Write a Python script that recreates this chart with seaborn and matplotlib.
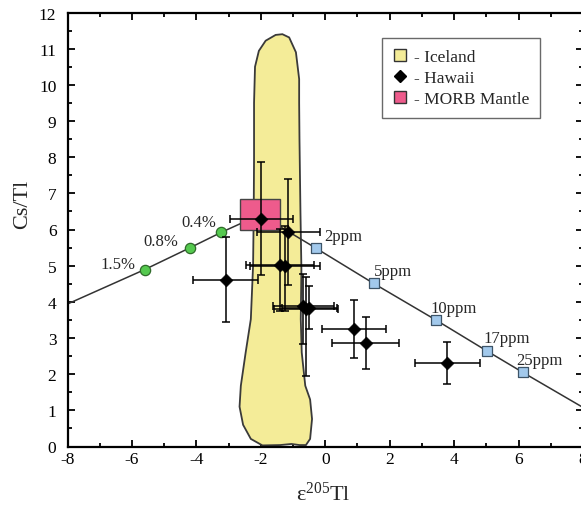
import matplotlib
matplotlib.use("Agg")
import matplotlib.pyplot as plt
from matplotlib.patches import Rectangle
from matplotlib.lines import Line2D
from matplotlib.ticker import MultipleLocator
import seaborn as sns
import pandas as pd

# ---------------- data ----------------
# Iceland field outline (epsilon205Tl, Cs/Tl)
ice_x = [-1.33, -1.54, -1.85, -2.06, -2.18, -2.21, -2.21, -2.22, -2.24, -2.31, -2.47,
         -2.62, -2.66, -2.55, -2.31, -1.95, -1.40, -1.05, -0.80, -0.60, -0.47, -0.41,
         -0.47, -0.62, -0.73, -0.76, -0.74, -0.77, -0.80, -0.81, -0.81, -0.91, -1.12]
ice_y = [11.40, 11.38, 11.22, 10.94, 10.50, 9.50, 8.00, 6.50, 5.00, 3.52, 2.60,
         1.68, 1.10, 0.60, 0.21, 0.03, 0.04, 0.07, 0.04, 0.04, 0.21, 0.76,
         1.30, 1.68, 2.60, 3.52, 4.90, 6.50, 8.50, 9.50, 10.16, 10.90, 11.31]

# Hawaii samples
haw_x = [-1.98, -1.15, -3.09, -1.41, -1.25, -0.68, -0.60, -0.50, 0.90, 1.25, 3.79]
haw_y = [6.30, 5.93, 4.60, 5.02, 5.00, 3.88, 3.80, 3.84, 3.25, 2.86, 2.30]
haw_xerr = [0.98, 0.98, 1.01, 1.05, 1.08, 0.95, 1.00, 0.85, 0.99, 1.03, 1.00]
haw_yerr_lo = [1.57, 1.47, 1.15, 1.27, 1.25, 1.05, 1.84, 0.60, 0.80, 0.72, 0.57]
haw_yerr_hi = [1.57, 1.48, 1.19, 1.00, 1.10, 0.89, 0.89, 0.60, 0.80, 0.72, 0.58]

# MORB mantle
morb_x = -2.02
morb_y = 6.41

# mixing line, left branch (% labels)
mixL_x = [-8.0, -5.61, -4.21, -3.23, -2.02]
mixL_y = [3.94, 4.89, 5.49, 5.92, 6.41]
pct_x = [-5.61, -4.21, -3.23]
pct_y = [4.89, 5.49, 5.92]
pct_lab = ["1.5%", "0.8%", "0.4%"]

# mixing line, right branch (ppm labels)
mixR_x = [-2.02, -0.30, 1.50, 3.43, 5.02, 6.13, 8.0]
mixR_y = [6.41, 5.49, 4.51, 3.50, 2.64, 2.05, 1.08]
ppm_x = [-0.30, 1.50, 3.43, 5.02, 6.13]
ppm_y = [5.49, 4.51, 3.50, 2.64, 2.05]
ppm_lab = ["2ppm", "5ppm", "10ppm", "17ppm", "25ppm"]

x_ticks = [-8, -6, -4, -2, 0, 2, 4, 6, 8]
y_ticks = list(range(0, 13))

# ---------------- style ----------------
sns.set_style("ticks")
plt.rcParams["font.family"] = ["Liberation Serif", "DejaVu Serif"]
plt.rcParams["mathtext.fontset"] = "custom"
plt.rcParams["mathtext.rm"] = "Liberation Serif"
plt.rcParams["mathtext.it"] = "Liberation Serif:italic"

YELLOW = "#f4ec98"
PINK = "#ee5b8c"
GREEN = "#55c94f"
BLUE = "#a2c9ec"

fig = plt.figure(figsize=(5.81, 5.06), dpi=100)
ax = fig.add_axes([67.5 / 581, (506 - 447.5) / 506, 515.5 / 581, 434 / 506])

# Iceland field
ax.fill(ice_x, ice_y, facecolor=YELLOW, edgecolor="#3a3a3a", lw=1.3, zorder=1)

# mixing lines
dl = pd.DataFrame({"x": mixL_x, "y": mixL_y})
dr = pd.DataFrame({"x": mixR_x, "y": mixR_y})
sns.lineplot(data=dl, x="x", y="y", sort=False, color="#333333", lw=1.1, ax=ax, zorder=2)
sns.lineplot(data=dr, x="x", y="y", sort=False, color="#333333", lw=1.1, ax=ax, zorder=2)

# MORB mantle box
ax.add_patch(Rectangle((morb_x - 0.63, morb_y - 0.42), 1.26, 0.84,
                       facecolor=PINK, edgecolor="#444444", lw=1.0, zorder=3))

# green % points
sns.scatterplot(x=pct_x, y=pct_y, marker="o", s=55, color=GREEN,
                edgecolor="#2f6b2a", linewidth=0.9, ax=ax, zorder=4)
# blue ppm points
sns.scatterplot(x=ppm_x, y=ppm_y, marker="s", s=50, color=BLUE,
                edgecolor="#3d5468", linewidth=0.9, ax=ax, zorder=4)

# Hawaii errorbars + diamonds
ax.errorbar(haw_x, haw_y, xerr=haw_xerr, yerr=[haw_yerr_lo, haw_yerr_hi],
            fmt="none", ecolor="black", elinewidth=1.1, capsize=3, capthick=1.1, zorder=5)
sns.scatterplot(x=haw_x, y=haw_y, marker="D", s=42, color="black",
                edgecolor="black", linewidth=0.5, ax=ax, zorder=6)

# labels
pct_off = [(-9, 6), (-11, 7), (-5, 10)]
for x, y, t, o in zip(pct_x, pct_y, pct_lab, pct_off):
    ax.annotate(t, (x, y), xytext=o, textcoords="offset pixels",
                ha="right", va="center", fontsize=12, zorder=7)
ppm_off = [(9, 12), (0, 12), (-5, 12), (-4, 13), (-7, 12)]
for x, y, t, o in zip(ppm_x, ppm_y, ppm_lab, ppm_off):
    ax.annotate(t, (x, y), xytext=o, textcoords="offset pixels",
                ha="left", va="center", fontsize=12, zorder=7)

# axes
ax.set_xlim(-8, 8)
ax.set_ylim(0, 12)
ax.set_xticks(x_ticks)
ax.set_yticks(y_ticks)
ax.set_xticklabels([str(v) for v in x_ticks])
ax.xaxis.set_minor_locator(MultipleLocator(1))
ax.yaxis.set_minor_locator(MultipleLocator(0.5))
ax.tick_params(which="both", direction="in", top=True, right=True, width=1.3, colors="black")
ax.tick_params(which="major", length=5)
ax.tick_params(which="minor", length=3)
ax.tick_params(axis="x", which="major", pad=3, labelsize=12.5)
ax.tick_params(axis="y", which="major", pad=8, labelsize=12.5)
for sp in ax.spines.values():
    sp.set_linewidth(1.6)
    sp.set_color("black")
    sp.set_visible(True)

ax.set_xlabel(r"ε$^{205}$Tl", fontsize=16)
ax.set_ylabel("Cs/Tl", fontsize=16)
ax.xaxis.set_label_coords(0.496, -0.08)
ax.yaxis.set_label_coords(-0.068, 0.56)

# legend
handles = [
    Line2D([], [], ls="none", marker="s", ms=8.5, mfc=YELLOW, mec="#333333", mew=1.0),
    Line2D([], [], ls="none", marker="D", ms=6.5, mfc="black", mec="black"),
    Line2D([], [], ls="none", marker="s", ms=8.5, mfc=PINK, mec="#333333", mew=1.0),
]
leg = ax.legend(handles, ["- Iceland", "- Hawaii", "- MORB Mantle"],
                loc="upper left", bbox_to_anchor=(0.611, 0.941), borderaxespad=0,
                fontsize=12.5, handlelength=0.8, handletextpad=0.4,
                borderpad=0.6, labelspacing=0.3, frameon=True, fancybox=False)
leg.get_frame().set_edgecolor("#444444")
leg.get_frame().set_linewidth(1.0)
leg.set_zorder(10)

fig.savefig("out.png", dpi=100)
